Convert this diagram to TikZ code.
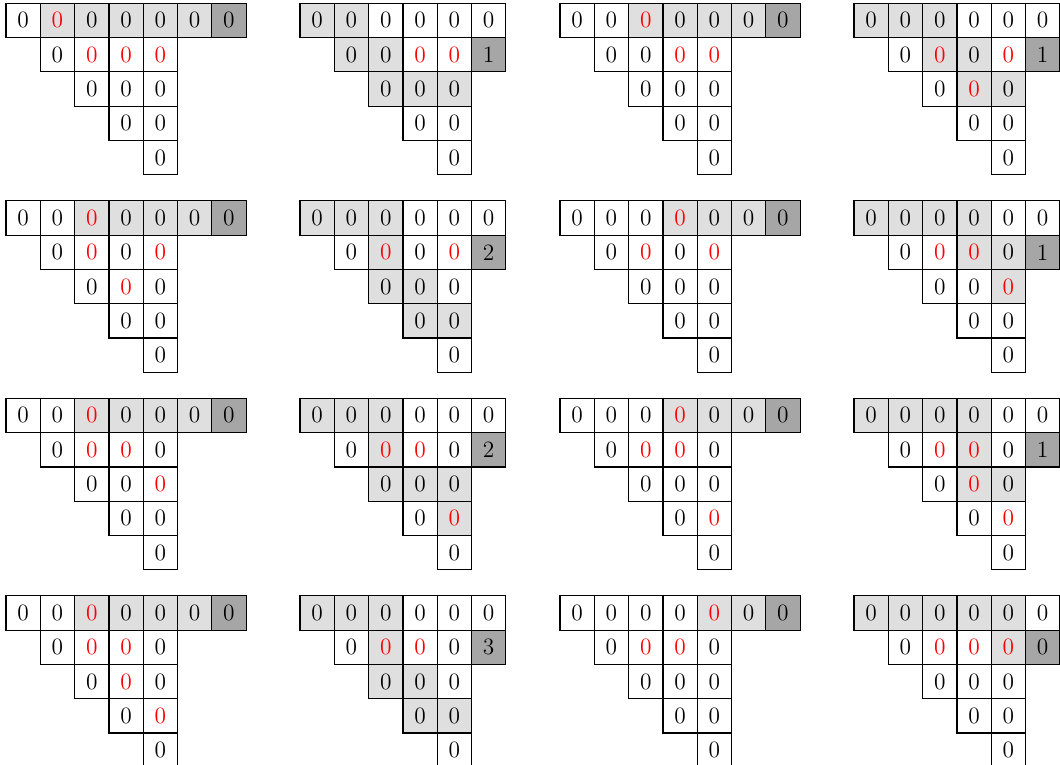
\documentclass[tikz,border=0pt]{standalone}
\usepackage{tikz}
\definecolor{lightc}{gray}{0.875}
\definecolor{darkc}{gray}{0.65}
\newcommand\csz{34.3}
\newcommand\tabpanel[4]{%
  \foreach \r/\c/\s/\v in {#4} {%
    \node[cellbox,\s] (#1-\r-\c) at ({#2+(\c+0.5)*\csz},{#3+(\r+0.5)*\csz}) {\v};
  }%
}
\tikzset{
  cellbox/.style={draw, line width=0.6pt, minimum size=17.15pt, inner sep=0pt, outer sep=0pt,
    font=\fontsize{11.7}{14}\selectfont},
  cw/.style={},
  cwr/.style={text=red},
  cl/.style={fill=lightc},
  clr/.style={fill=lightc, text=red},
  cd/.style={fill=darkc}
}
\begin{document}
\begin{tikzpicture}[x=0.5pt, y=-0.5pt]
\useasboundingbox (0,0) rectangle (1060,765);
% row 1
\tabpanel{p11}{6}{3.3}{0/0/cw/0,0/1/clr/0,0/2/cl/0,0/3/cl/0,0/4/cl/0,0/5/cl/0,0/6/cd/0,
 1/1/cw/0,1/2/cwr/0,1/3/cwr/0,1/4/cwr/0,2/2/cw/0,2/3/cw/0,2/4/cw/0,3/3/cw/0,3/4/cw/0,4/4/cw/0}
\tabpanel{p12}{300}{3.3}{0/0/cl/0,0/1/cl/0,0/2/cw/0,0/3/cw/0,0/4/cw/0,0/5/cw/0,
 1/1/cl/0,1/2/cl/0,1/3/cwr/0,1/4/cwr/0,1/5/cd/1,2/2/cl/0,2/3/cl/0,2/4/cl/0,3/3/cw/0,3/4/cw/0,4/4/cw/0}
\tabpanel{p13}{560}{3.3}{0/0/cw/0,0/1/cw/0,0/2/clr/0,0/3/cl/0,0/4/cl/0,0/5/cl/0,0/6/cd/0,
 1/1/cw/0,1/2/cw/0,1/3/cwr/0,1/4/cwr/0,2/2/cw/0,2/3/cw/0,2/4/cw/0,3/3/cw/0,3/4/cw/0,4/4/cw/0}
\tabpanel{p14}{854}{3.3}{0/0/cl/0,0/1/cl/0,0/2/cl/0,0/3/cw/0,0/4/cw/0,0/5/cw/0,
 1/1/cw/0,1/2/clr/0,1/3/cl/0,1/4/cwr/0,1/5/cd/1,2/2/cw/0,2/3/clr/0,2/4/cl/0,3/3/cw/0,3/4/cw/0,4/4/cw/0}
% row 2
\tabpanel{p21}{6}{200.8}{0/0/cw/0,0/1/cw/0,0/2/clr/0,0/3/cl/0,0/4/cl/0,0/5/cl/0,0/6/cd/0,
 1/1/cw/0,1/2/cwr/0,1/3/cw/0,1/4/cwr/0,2/2/cw/0,2/3/cwr/0,2/4/cw/0,3/3/cw/0,3/4/cw/0,4/4/cw/0}
\tabpanel{p22}{300}{200.8}{0/0/cl/0,0/1/cl/0,0/2/cl/0,0/3/cw/0,0/4/cw/0,0/5/cw/0,
 1/1/cw/0,1/2/clr/0,1/3/cw/0,1/4/cwr/0,1/5/cd/2,2/2/cl/0,2/3/cl/0,2/4/cw/0,3/3/cl/0,3/4/cl/0,4/4/cw/0}
\tabpanel{p23}{560}{200.8}{0/0/cw/0,0/1/cw/0,0/2/cw/0,0/3/clr/0,0/4/cl/0,0/5/cl/0,0/6/cd/0,
 1/1/cw/0,1/2/cwr/0,1/3/cw/0,1/4/cwr/0,2/2/cw/0,2/3/cw/0,2/4/cw/0,3/3/cw/0,3/4/cw/0,4/4/cw/0}
\tabpanel{p24}{854}{200.8}{0/0/cl/0,0/1/cl/0,0/2/cl/0,0/3/cl/0,0/4/cw/0,0/5/cw/0,
 1/1/cw/0,1/2/cwr/0,1/3/clr/0,1/4/cl/0,1/5/cd/1,2/2/cw/0,2/3/cw/0,2/4/clr/0,3/3/cw/0,3/4/cw/0,4/4/cw/0}
% row 3
\tabpanel{p31}{6}{398.3}{0/0/cw/0,0/1/cw/0,0/2/clr/0,0/3/cl/0,0/4/cl/0,0/5/cl/0,0/6/cd/0,
 1/1/cw/0,1/2/cwr/0,1/3/cwr/0,1/4/cw/0,2/2/cw/0,2/3/cw/0,2/4/cwr/0,3/3/cw/0,3/4/cw/0,4/4/cw/0}
\tabpanel{p32}{300}{398.3}{0/0/cl/0,0/1/cl/0,0/2/cl/0,0/3/cw/0,0/4/cw/0,0/5/cw/0,
 1/1/cw/0,1/2/clr/0,1/3/cwr/0,1/4/cw/0,1/5/cd/2,2/2/cl/0,2/3/cl/0,2/4/cl/0,3/3/cw/0,3/4/clr/0,4/4/cw/0}
\tabpanel{p33}{560}{398.3}{0/0/cw/0,0/1/cw/0,0/2/cw/0,0/3/clr/0,0/4/cl/0,0/5/cl/0,0/6/cd/0,
 1/1/cw/0,1/2/cwr/0,1/3/cwr/0,1/4/cw/0,2/2/cw/0,2/3/cw/0,2/4/cw/0,3/3/cw/0,3/4/cwr/0,4/4/cw/0}
\tabpanel{p34}{854}{398.3}{0/0/cl/0,0/1/cl/0,0/2/cl/0,0/3/cl/0,0/4/cw/0,0/5/cw/0,
 1/1/cw/0,1/2/cwr/0,1/3/clr/0,1/4/cw/0,1/5/cd/1,2/2/cw/0,2/3/clr/0,2/4/cl/0,3/3/cw/0,3/4/cwr/0,4/4/cw/0}
% row 4
\tabpanel{p41}{6}{595.8}{0/0/cw/0,0/1/cw/0,0/2/clr/0,0/3/cl/0,0/4/cl/0,0/5/cl/0,0/6/cd/0,
 1/1/cw/0,1/2/cwr/0,1/3/cwr/0,1/4/cw/0,2/2/cw/0,2/3/cwr/0,2/4/cw/0,3/3/cw/0,3/4/cwr/0,4/4/cw/0}
\tabpanel{p42}{300}{595.8}{0/0/cl/0,0/1/cl/0,0/2/cl/0,0/3/cw/0,0/4/cw/0,0/5/cw/0,
 1/1/cw/0,1/2/clr/0,1/3/cwr/0,1/4/cw/0,1/5/cd/3,2/2/cl/0,2/3/cl/0,2/4/cw/0,3/3/cl/0,3/4/cl/0,4/4/cw/0}
\tabpanel{p43}{560}{595.8}{0/0/cw/0,0/1/cw/0,0/2/cw/0,0/3/cw/0,0/4/clr/0,0/5/cl/0,0/6/cd/0,
 1/1/cw/0,1/2/cwr/0,1/3/cwr/0,1/4/cw/0,2/2/cw/0,2/3/cw/0,2/4/cw/0,3/3/cw/0,3/4/cw/0,4/4/cw/0}
\tabpanel{p44}{854}{595.8}{0/0/cl/0,0/1/cl/0,0/2/cl/0,0/3/cl/0,0/4/cl/0,0/5/cw/0,
 1/1/cw/0,1/2/cwr/0,1/3/cwr/0,1/4/clr/0,1/5/cd/0,2/2/cw/0,2/3/cw/0,2/4/cw/0,3/3/cw/0,3/4/cw/0,4/4/cw/0}
\end{tikzpicture}
\end{document}
